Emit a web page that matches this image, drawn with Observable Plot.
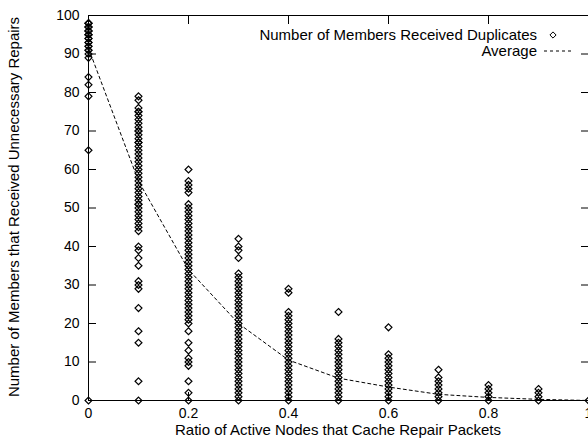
<!DOCTYPE html>
<html><head><meta charset="utf-8">
<script src="https://cdn.jsdelivr.net/npm/d3@7"></script>
<script src="https://cdn.jsdelivr.net/npm/@observablehq/plot@0.6"></script>
<style>body{margin:0;background:#fff;} svg{display:block}</style>
</head><body><div id="chart"></div>
<script>
// x positions of the columns (ratio of active nodes)
const xValues = [0, 0.1, 0.2, 0.3, 0.4, 0.5, 0.6, 0.7, 0.8, 0.9, 1];

// per-run values (number of members that received duplicates)
const col00 = [98,98,98,97,97,97,96,96,96,95,95,95,94,94,93,93,92,92,91,91,90,89,84,82,79,65,0];
const col01 = [79,78,76,75,75,74,73,72,71,70,70,69,68,67,67,66,65,64,63,62,61,60,59,58,57,56,55,54,53,52,51,51,50,49,48,47,46,45,44,40,39,37,35,31,30,29,24,18,15,5,0];
const col02 = [60,57,56,55,54,51,50,49,48,47,46,45,44,43,42,41,40,39,38,37,36,35,34,33,32,31,30,29,28,27,26,25,24,23,22,21,20,18,15,13,11,10,9,5,2,0];
const col03 = [42,40,39,37,33,32,31,30,29,28,27,26,25,24,23,22,21,20,19,18,17,16,15,14,13,12,11,10,9,8,7,6,5,4,3,2,1,0];
const col04 = [29,28,23,22,21,20,19,18,17,16,15,14,13,12,11,10,9,8,7,6,5,4,3,2,1,0];
const col05 = [23,16,15,14,13,12,11,10,9,8,7,6,5,4,3,2,1,0];
const col06 = [19,12,11,10,9,8,7,6,5,4,3,2,1,0];
const col07 = [8,6,5,4,3,2,1,0];
const col08 = [4,3,2,1,0];
const col09 = [3,2,1,0];
const col10 = [0];

// average curve
const avgValues = [91.5, 57, 34, 20, 10.5, 5.8, 3.5, 1.6, 0.8, 0.3, 0];

const xTicks = [0, 0.2, 0.4, 0.6, 0.8, 1];
const yTicks = [0, 10, 20, 30, 40, 50, 60, 70, 80, 90, 100];

const seriesLabel = "Number of Members Received Duplicates";
const avgLabel = "Average";
const xTitle = "Ratio of Active Nodes that Cache Repair Packets";
const yTitle = "Number of Members that Received Unnecessary Repairs";

const columns = [col00, col01, col02, col03, col04, col05, col06, col07, col08, col09, col10];
const points = columns.flatMap((vals, i) => vals.map(v => ({x: xValues[i], y: v})));
const avg = xValues.map((x, i) => ({x, y: avgValues[i]}));

const FONT = "'Liberation Sans', Arial, Helvetica, sans-serif";
const R = 3.1;

const chart = Plot.plot({
  width: 588, height: 439,
  marginLeft: 88, marginRight: 0, marginTop: 15, marginBottom: 39,
  style: {fontFamily: FONT, fontSize: "14px", color: "black", background: "white"},
  x: {domain: [0, 1]},
  y: {domain: [0, 100]},
  marks: [
    Plot.frame({stroke: "black", strokeWidth: 1}),
    Plot.axisY(yTicks, {anchor: "left", tickSize: -8, tickPadding: 17, label: null, fontVariant: "normal"}),
    Plot.axisY(yTicks, {anchor: "right", tickSize: -8, tickFormat: () => "", label: null}),
    Plot.axisX(xTicks, {anchor: "bottom", tickSize: -8, tickPadding: 16, tickFormat: d => String(d), label: null, fontVariant: "normal"}),
    Plot.axisX(xTicks, {anchor: "top", tickSize: -8, tickFormat: () => "", label: null}),
    Plot.line(avg, {x: "x", y: "y", stroke: "black", strokeWidth: 1, strokeDasharray: "3,3"}),
    Plot.dot(points, {x: "x", y: "y", symbol: "diamond2", r: R, stroke: "black", fill: "none", strokeWidth: 1.2})
  ]
});
document.getElementById("chart").appendChild(chart);

const svg = d3.select(chart);
const g = svg.append("g").attr("font-family", FONT).attr("font-size", 15).attr("fill", "black");
g.append("text").attr("x", 537).attr("y", 40).attr("text-anchor", "end").text(seriesLabel);
g.append("text").attr("x", 537).attr("y", 56).attr("text-anchor", "end").text(avgLabel);
g.append("path").attr("d", d3.symbol(d3.symbolDiamond2, Math.PI * 2.8 * 2.8)()).attr("transform", "translate(553,35)")
  .attr("fill", "none").attr("stroke", "black").attr("stroke-width", 1);
g.append("line").attr("x1", 544).attr("x2", 574).attr("y1", 51).attr("y2", 51)
  .attr("stroke", "black").attr("stroke-width", 1).attr("stroke-dasharray", "3,3");
g.append("text").attr("x", 338).attr("y", 435).attr("text-anchor", "middle").text(xTitle);
g.append("text").attr("transform", "translate(19,207) rotate(-90)").attr("text-anchor", "middle").text(yTitle);
</script>
</body></html>
